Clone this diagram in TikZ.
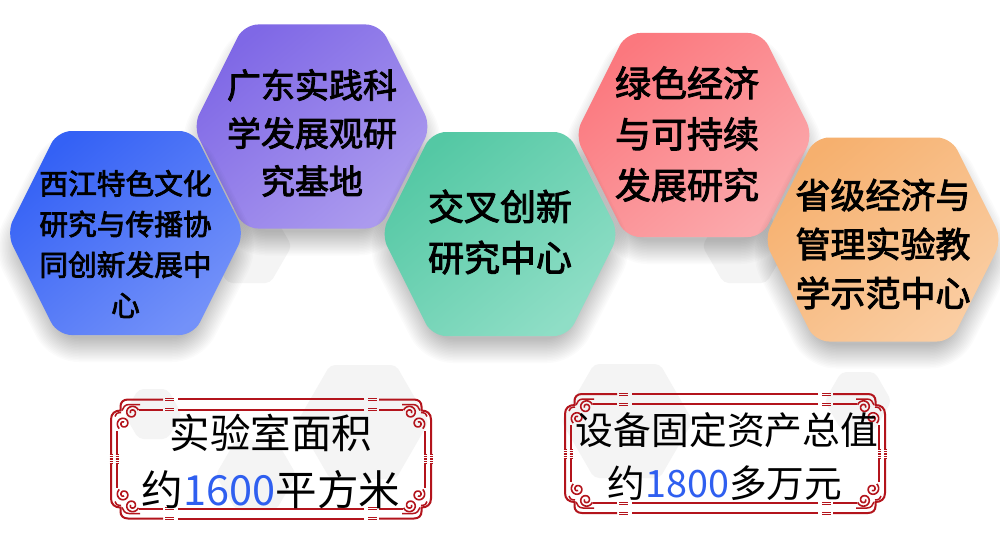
\documentclass[tikz,border=0pt]{standalone}
\usepackage{fontspec}
\setmainfont{Noto Sans CJK SC}
\newfontfamily\hexfont[FakeBold=2.6]{Noto Sans CJK SC}
\definecolor{frred}{HTML}{B3141C}
\definecolor{ghost}{HTML}{F4F4F4}
\definecolor{numblue}{HTML}{2F5FF0}
\definecolor{puA}{HTML}{7F68E6}\definecolor{puB}{HTML}{AB9AEE}
\definecolor{blA}{HTML}{3461F5}\definecolor{blB}{HTML}{7391F9}
\definecolor{reA}{HTML}{FB787E}\definecolor{reB}{HTML}{FBA9AC}
\definecolor{grA}{HTML}{54C8A4}\definecolor{grB}{HTML}{8FDEC6}
\definecolor{orA}{HTML}{F6B06E}\definecolor{orB}{HTML}{FACDA2}
\newcommand{\hexp}[2]{(#1-119,#2) -- (#1-68,#2-102) -- (#1+68,#2-102) -- (#1+119,#2) -- (#1+68,#2+102) -- (#1-68,#2+102) -- cycle}
\newcommand{\shadp}[2]{(#1-107,#2+14) -- (#1-61,#2-76) -- (#1+61,#2-76) -- (#1+107,#2+14) -- (#1+61,#2+104) -- (#1-61,#2+104) -- cycle}
\newcommand{\ghosthex}[3]{\fill[ghost,rounded corners=5] (#1-#3*1.155,#2) -- (#1-#3*.577,#2-#3) -- (#1+#3*.577,#2-#3) -- (#1+#3*1.155,#2) -- (#1+#3*.577,#2+#3) -- (#1-#3*.577,#2+#3) -- cycle;}
\newcommand{\hexagon}[4]{%
  \foreach \w in {50,47,...,2}{\draw[black,opacity=.015,line width=\w pt,line join=round,rounded corners=14] \shadp{#1}{#2};}
  \shade[rounded corners=14,top color=#3,bottom color=#4,shading angle=40] \hexp{#1}{#2};}
\newcommand{\spirala}{plot[smooth,samples=40,domain=20:560] ({23+(7-\x/100)*cos(\x)},{15-(7-\x/100)*sin(\x)})}
\newcommand{\spiralb}{plot[smooth,samples=40,domain=40:560] ({14.5-(7-\x/100)*sin(\x)},{26+(7-\x/100)*cos(\x)})}
\newcommand{\ornframe}[2]{%
  \foreach \sx/\sy in {1/1,-1/1,1/-1,-1/-1}{%
  \begin{scope}[shift={(#1+162,#2+61.5)},xscale=\sx,yscale=\sy]
  \begin{scope}[shift={(-162,-61.5)},frred,line width=2pt]
    \draw (54,2) -- (19,2) .. controls (14,2) and (11.5,5) .. (11.5,9) -- (11.5,13) .. controls (6,13) and (2,16) .. (2,22) -- (2,57);
    \draw (54,12) -- (30,12);
    \draw[line width=1.6pt] \spirala;
    \draw (8,57) -- (8,33);
    \draw[line width=1.6pt] \spiralb;
    \draw[line width=1.5pt] (31,7) -- (20,7) .. controls (16,7) and (14,10) .. (13,13);
    \draw[line width=1.5pt] (6,19) .. controls (6,17) and (8,15) .. (12,15);
    \draw (69,1.7) -- (162,1.7);
    \draw (69,12) -- (162,12);
    \foreach \yy in {1,3,11,13}{\draw[line width=1pt] (56,\yy) -- (65,\yy);}
    \foreach \yy in {57,59,61}{\draw[line width=1pt] (0.5,\yy) -- (3.5,\yy) (6.5,\yy) -- (9.5,\yy);}
  \end{scope}\end{scope}}}
\tikzset{hextext/.style n args={2}{align=center,text=black,inner sep=0pt,font=\hexfont\fontsize{#1}{#2}\selectfont},
  frametext/.style={anchor=center,inner sep=0pt,text=black,font=\fontsize{#1}{#1}\selectfont}}
\begin{document}
\begin{tikzpicture}[x=1pt,y=-1pt]
\useasboundingbox (0,0) rectangle (1000,551);
\fill[white] (0,0) rectangle (1000,551);
% pale background hexagons
\ghosthex{249}{246}{37}
\ghosthex{745}{246}{37}
\ghosthex{153}{414}{25}
\ghosthex{363}{422}{57}
\ghosthex{256}{475}{35}
\ghosthex{627}{421}{57}
\ghosthex{858}{401}{29}
% coloured hexagons
\hexagon{312}{126.5}{puA}{puB}
\hexagon{125.5}{233}{blA}{blB}
\hexagon{694}{135}{reA}{reB}
\hexagon{500}{234}{grA}{grB}
\hexagon{883}{239.5}{orA}{orB}
\node[hextext={34}{48}] (purple) at (312,133) {广东实践科\\学发展观研\\究基地};
\node[hextext={28.7}{40.6}] (blue) at (125.5,244) {西江特色文化\\研究与传播协\\同创新发展中\\心};
\node[hextext={36}{51}] (red) at (687,134) {绿色经济\\与可持续\\发展研究};
\node[hextext={36}{51}] (green) at (500,232) {交叉创新\\研究中心};
\node[hextext={35}{49}] (orange) at (883,244) {省级经济与\\管理实验教\\学示范中心};
% frames
\ornframe{109}{397.5}
\ornframe{563}{392}
\node[frametext=40.5] (labA) at (271,433) {实验室面积};
\node[frametext=41.5] (labB) at (271,490) {约\textcolor{numblue}{1600}平方米};
\node[frametext=37.8] (equA) at (727,430) {设备固定资产总值};
\node[frametext=37.7] (equB) at (725,483) {约\textcolor{numblue}{1800}多万元};
\end{tikzpicture}
\end{document}
